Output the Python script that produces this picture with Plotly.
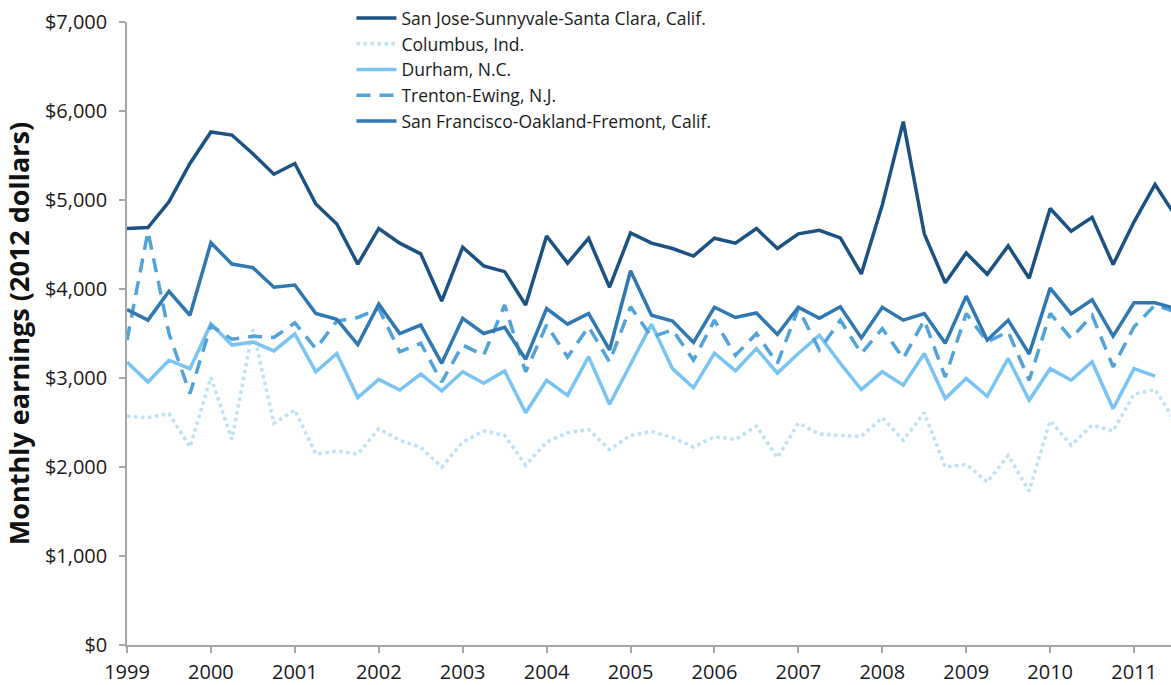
import plotly.graph_objects as go

# Quarterly observations, 1999Q1 .. 2011Q3
quarters = [1999 + i / 4 for i in range(51)]
year_ticks = list(range(1999, 2012))
y_ticks = [0, 1000, 2000, 3000, 4000, 5000, 6000, 7000]
y_tick_labels = ["$0", "$1,000", "$2,000", "$3,000", "$4,000", "$5,000", "$6,000", "$7,000"]

san_jose = [4680, 4690, 4980, 5410, 5765, 5730, 5520, 5290, 5410, 4955, 4730, 4280,
            4680, 4515, 4395, 3865, 4470, 4260, 4195, 3820, 4595, 4290, 4570, 4020,
            4630, 4515, 4455, 4370, 4570, 4515, 4680, 4455, 4620, 4660, 4575, 4170,
            4945, 5880, 4620, 4070, 4405, 4165, 4485, 4120, 4905, 4650, 4805, 4275,
            4755, 5175, 4810]
columbus = [2570, 2555, 2600, 2225, 3005, 2310, 3545, 2490, 2640, 2145, 2180, 2145,
            2430, 2300, 2220, 2000, 2280, 2405, 2355, 2020, 2280, 2385, 2420, 2195,
            2355, 2400, 2330, 2225, 2340, 2310, 2460, 2105, 2495, 2370, 2355, 2345,
            2555, 2300, 2610, 2000, 2030, 1830, 2130, 1730, 2520, 2245, 2470, 2405,
            2820, 2870, 2500]
durham = [3180, 2955, 3200, 3105, 3610, 3370, 3405, 3305, 3495, 3070, 3275, 2780,
          2985, 2865, 3045, 2855, 3070, 2940, 3080, 2610, 2975, 2805, 3240, 2705,
          3155, 3605, 3105, 2890, 3280, 3080, 3330, 3055, 3275, 3480, 3165, 2870,
          3070, 2920, 3275, 2770, 2995, 2795, 3220, 2750, 3105, 2975, 3180, 2655,
          3105, 3020, None]
trenton = [3425, 4645, 3500, 2825, 3590, 3435, 3470, 3455, 3620, 3330, 3640, 3680,
           3780, 3295, 3390, 2955, 3370, 3255, 3820, 3070, 3595, 3235, 3575, 3180,
           3800, 3460, 3540, 3200, 3650, 3255, 3500, 3165, 3780, 3315, 3650, 3275,
           3555, 3220, 3650, 3010, 3725, 3405, 3520, 2975, 3725, 3445, 3705, 3125,
           3575, 3820, 3740]
san_francisco = [3770, 3650, 3975, 3705, 4520, 4280, 4240, 4020, 4045, 3725, 3660, 3375,
                 3830, 3500, 3595, 3165, 3670, 3500, 3570, 3210, 3780, 3605, 3725, 3315,
                 4205, 3705, 3640, 3400, 3795, 3680, 3730, 3490, 3795, 3670, 3800, 3450,
                 3795, 3650, 3725, 3390, 3920, 3425, 3650, 3270, 4010, 3720, 3880, 3470,
                 3845, 3845, 3780]

series = [
    ("San Jose-Sunnyvale-Santa Clara, Calif.", san_jose, "#1c5282", "solid"),
    ("Columbus, Ind.", columbus, "#bfe1f6", "dot"),
    ("Durham, N.C.", durham, "#79c4f2", "solid"),
    ("Trenton-Ewing, N.J.", trenton, "#52a3d9", "14px,9px"),
    ("San Francisco-Oakland-Fremont, Calif.", san_francisco, "#2f78b1", "solid"),
]

fig = go.Figure()
for name, vals, color, dash in series:
    fig.add_trace(go.Scatter(
        x=quarters, y=vals, name=name, mode="lines",
        line=dict(color=color, width=3.5, dash=dash),
        connectgaps=False,
    ))

axis_common = dict(
    showgrid=False, zeroline=False, showline=True, linecolor="#a6a6a6", linewidth=1.5,
    ticks="outside", ticklen=6, tickcolor="#a6a6a6", tickwidth=1.5,
    tickfont=dict(size=20, color="#1a1a1a"),
)

fig.update_layout(
    width=1171, height=685,
    margin=dict(l=127, r=0, t=22, b=40),
    paper_bgcolor="white", plot_bgcolor="white",
    font=dict(family="Open Sans, Noto Sans, sans-serif", color="#1a1a1a", size=17.5),
    showlegend=True,
    legend=dict(
        x=0.215, y=1.035, xanchor="left", yanchor="top",
        bgcolor="rgba(255,255,255,0)", font=dict(size=17.5, color="#1a1a1a"),
        tracegroupgap=0, itemwidth=40,
    ),
    xaxis=dict(
        range=[1999, 2011.44], tickmode="array", tickvals=year_ticks,
        ticktext=[str(y) for y in year_ticks], ticklabelstandoff=2,
        **axis_common,
    ),
    yaxis=dict(
        range=[0, 7000], tickmode="array", tickvals=y_ticks, ticktext=y_tick_labels,
        ticklabelstandoff=8,
        title=dict(text="<b>Monthly earnings (2012 dollars)</b>",
                   font=dict(size=27, color="#111111"), standoff=8),
        **axis_common,
    ),
)

fig.write_html(
    "out.html",
    config={"displayModeBar": False},
    post_script="document.body.style.margin='0';document.body.style.overflow='hidden';",
)
